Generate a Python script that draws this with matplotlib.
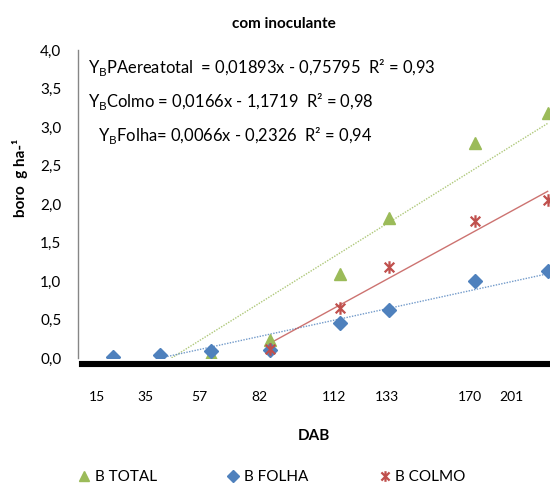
import numpy as np
import matplotlib
matplotlib.use("Agg")
import matplotlib.pyplot as plt
from matplotlib.path import Path

plt.rcParams['font.family'] = ['Lato', 'DejaVu Sans']
plt.rcParams['mathtext.fontset'] = 'custom'
plt.rcParams['mathtext.rm'] = 'Lato'

# data (DAB = days after ...)
dab = [15, 35, 57, 82, 112, 133, 170, 201]
b_folha = [0.01, 0.04, 0.09, 0.10, 0.45, 0.63, 1.00, 1.13]
dab_total = [35, 57, 82, 112, 133, 170, 201]
b_total = [0.01, 0.05, 0.23, 1.09, 1.82, 2.79, 3.18]
dab_colmo = [82, 112, 133, 170, 201]
b_colmo = [0.12, 0.65, 1.18, 1.78, 2.05]

tick_labels = ['15', '35', '57', '82', '112', '133', '170', '201']
tick_pos = [8.3, 28.9, 51.8, 77.7, 109.6, 132.3, 167.8, 185.6]  # labels sit off the points in the original

# trend lines as printed on the chart
fit_total = (0.01893, -0.75795)
fit_colmo = (0.0166, -1.1719)
fit_folha = (0.0066, -0.2326)

green = '#9BBB59'
blue = '#4F81BD'
red = '#C0504D'

# asterisk marker like Excel's star (x + vertical bar)
star = Path([(-1, -1), (1, 1), (-1, 1), (1, -1), (0, -1.3), (0, 1.3)],
            [Path.MOVETO, Path.LINETO, Path.MOVETO, Path.LINETO, Path.MOVETO, Path.LINETO])

fig = plt.figure(figsize=(5.5, 4.84), dpi=100)
ax = fig.add_axes([78 / 550, 0.2603, 1 - 78 / 550, 0.6364])

def trend(xs, coef, **kw):
    xx = np.array([min(xs), max(xs)], dtype=float)
    ax.plot(xx, coef[0] * xx + coef[1], **kw)

trend(dab_total, fit_total, color=green, lw=1, ls=(0, (1, 1)), alpha=0.8)
trend(dab, fit_folha, color=blue, lw=1, ls=(0, (1, 1)), alpha=0.8)
trend(dab_colmo, fit_colmo, color=red, lw=1, alpha=0.8)

ax.plot(dab_total, b_total, ls='none', marker='^', ms=9, color=green, label='B TOTAL')
ax.plot(dab, b_folha, ls='none', marker='D', ms=7.5, color=blue, label='B FOLHA')
ax.plot(dab_colmo, b_colmo, ls='none', marker=star, ms=9, mew=1.6, color=red, label='B COLMO')

ax.set_xlim(0, 202)
ax.set_ylim(0, 4.0)
ax.set_yticks(np.arange(0, 4.01, 0.5))
ax.set_yticklabels([f'{v:.1f}'.replace('.', ',') for v in np.arange(0, 4.01, 0.5)], fontsize=11)
ax.set_xticks(tick_pos)
ax.set_xticklabels(tick_labels, fontsize=11)
ax.tick_params(axis='both', length=0)
ax.tick_params(axis='y', pad=12)
ax.tick_params(axis='x', pad=19)

for s in ['top', 'right']:
    ax.spines[s].set_visible(False)
ax.spines['left'].set_color('#868686')
ax.spines['left'].set_linewidth(1)
ax.spines['bottom'].set_color('black')
ax.spines['bottom'].set_linewidth(4.4)
ax.spines['bottom'].set_position(('outward', 4.5))
ax.spines['bottom'].set_bounds(1.7, 202)

ax.set_xlabel('DAB', fontsize=11, fontweight='bold', labelpad=19)
fig.text(0.036, 0.632, 'boro  g ha-¹', rotation=90, fontsize=11, fontweight='bold',
         ha='center', va='center')
fig.text(0.516, 0.950, 'com inoculante', fontsize=11, fontweight='bold', ha='center', va='center')

eq_kw = dict(fontsize=11.9, va='center', ha='left')
fig.text(88 / 550, 1 - 68 / 484, r'Y$_\mathrm{B}$PAereatotal  = 0,01893x - 0,75795  R² = 0,93', **eq_kw)
fig.text(88 / 550, 1 - 101 / 484, r'Y$_\mathrm{B}$Colmo = 0,0166x - 1,1719  R² = 0,98', **eq_kw)
fig.text(98 / 550, 1 - 136 / 484, r'Y$_\mathrm{B}$Folha= 0,0066x - 0,2326  R² = 0,94', **eq_kw)

fig.legend(loc='center', bbox_to_anchor=(0.494, 0.014), ncol=3, frameon=False, fontsize=11,
           markerscale=0.85, handlelength=0.8, handletextpad=0.3, columnspacing=4.6)

fig.savefig('out.png', dpi=100)
